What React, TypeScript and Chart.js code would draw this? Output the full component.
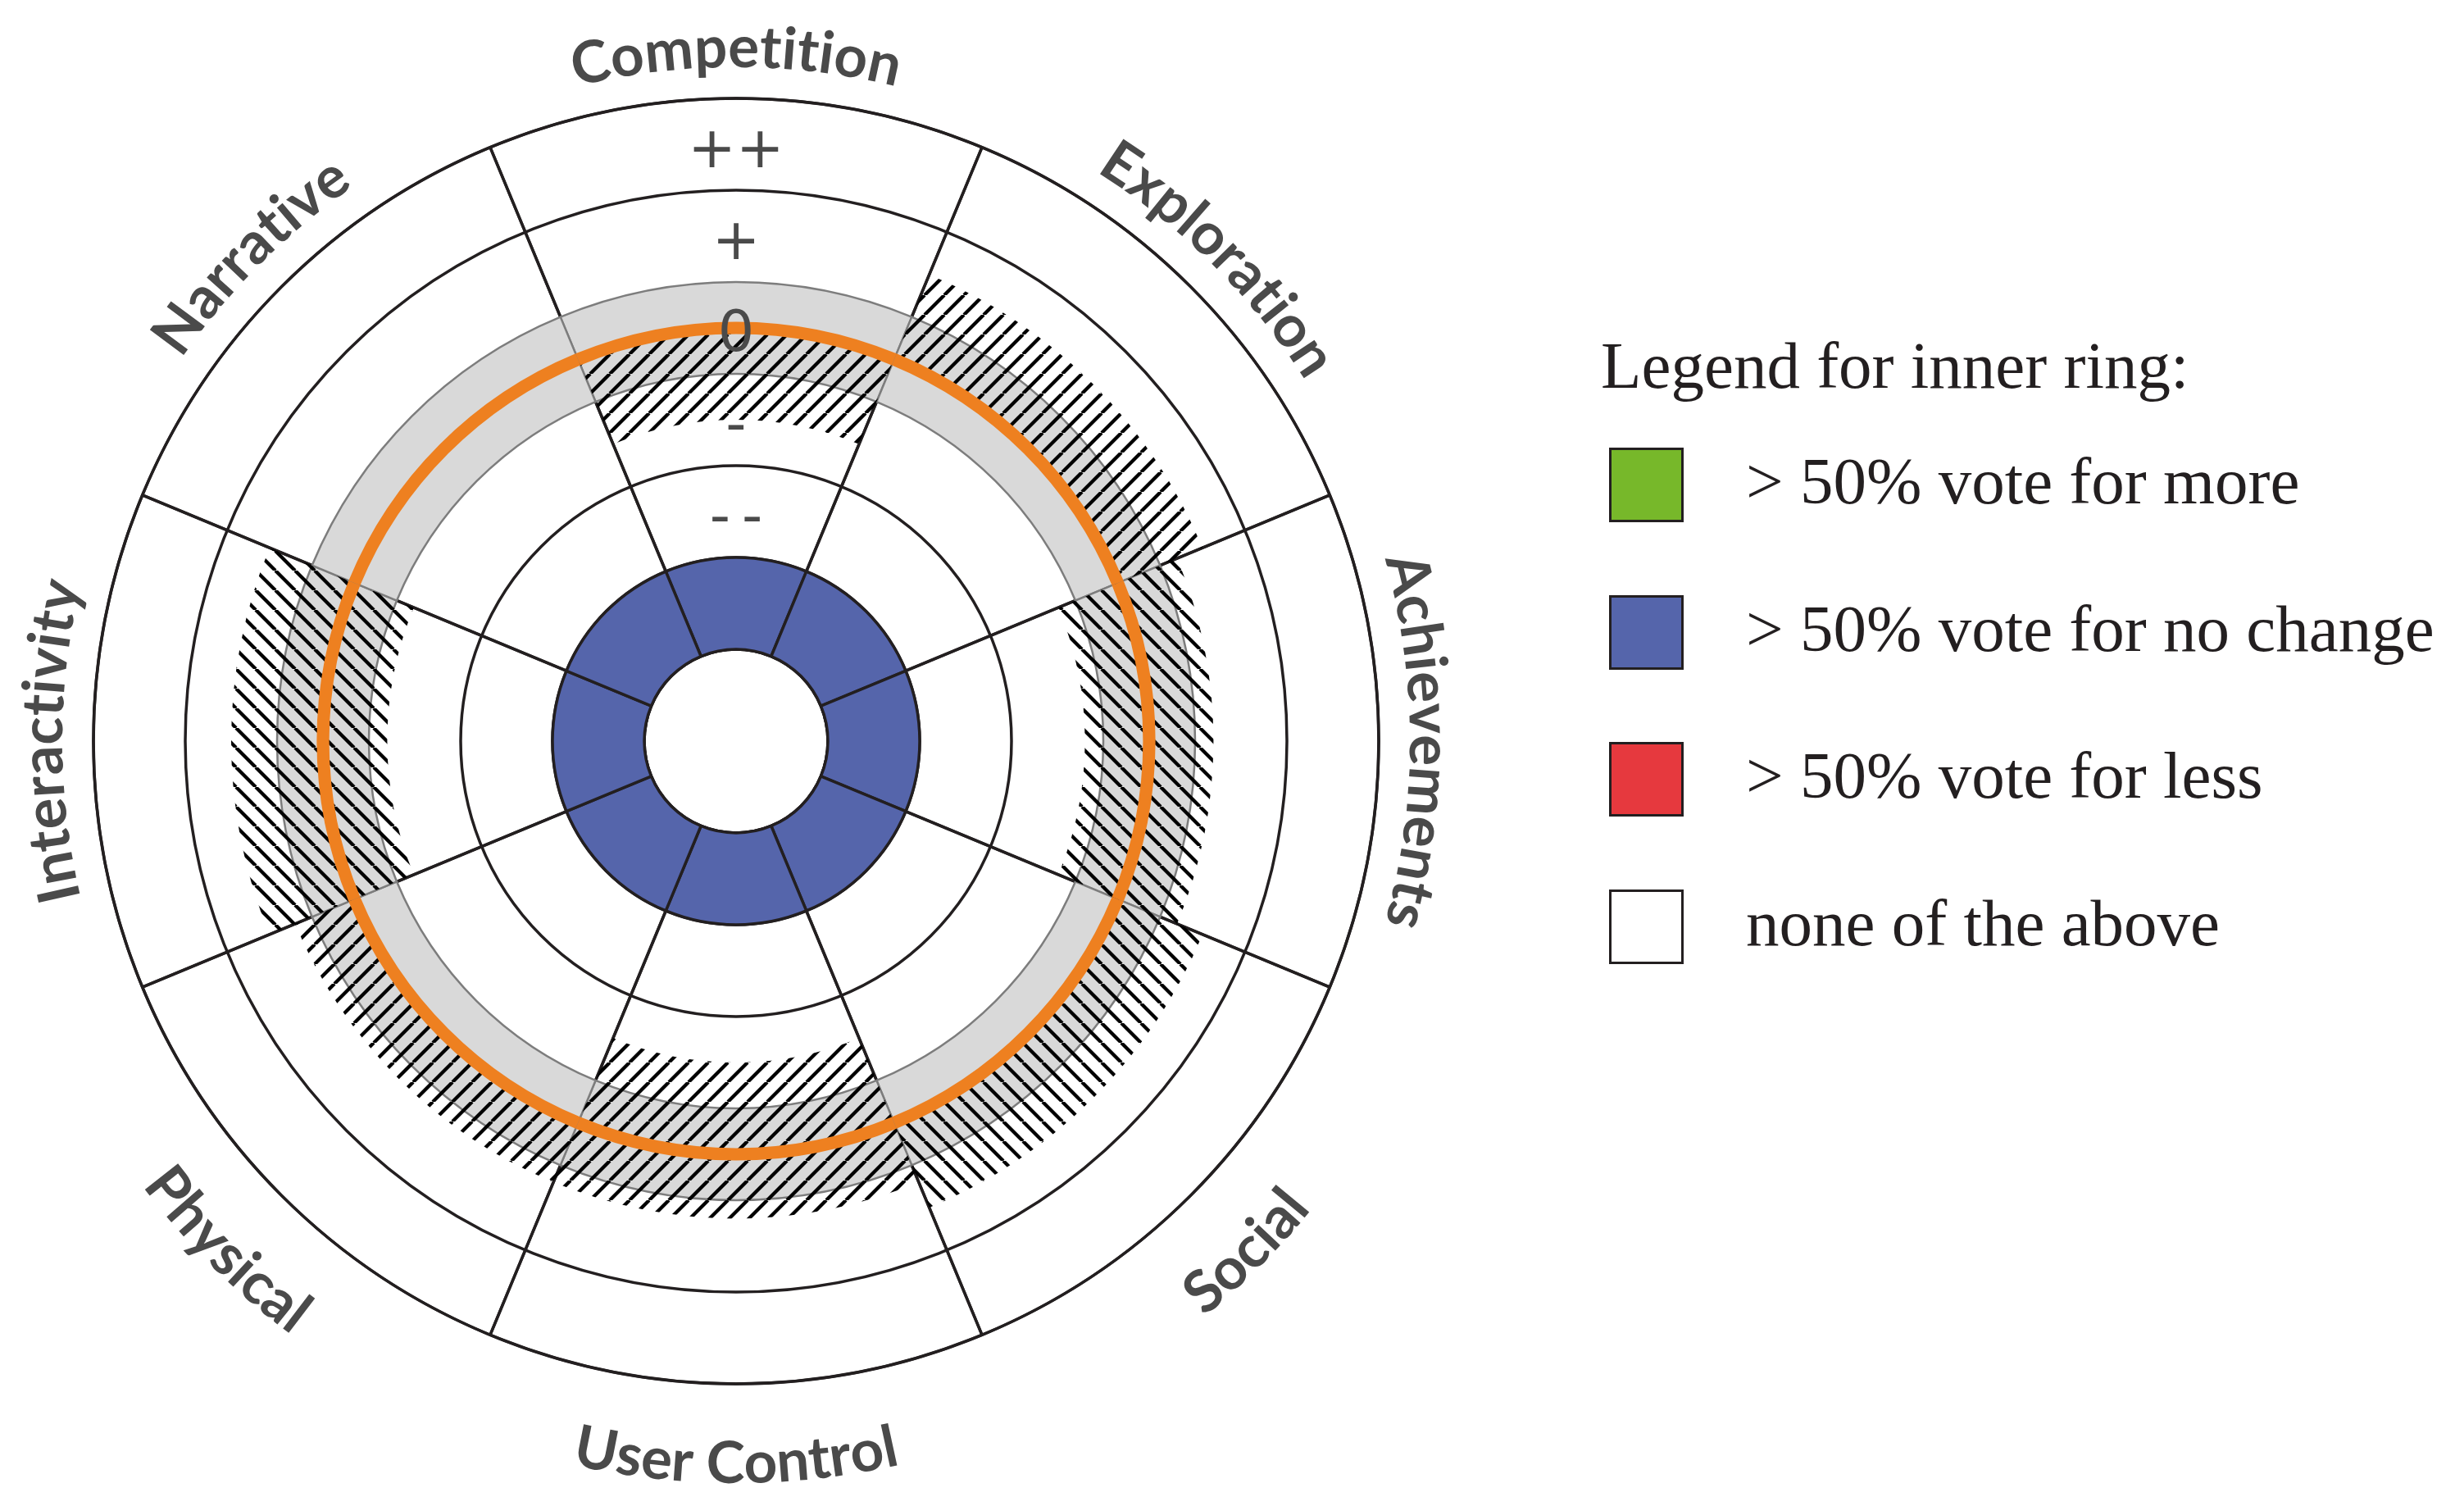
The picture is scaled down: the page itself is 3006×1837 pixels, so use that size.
import React, { useEffect, useRef } from 'react';
import { Chart, PolarAreaController, registerables } from 'chart.js';

Chart.register(...registerables);

// ---------------- data ----------------
const CATEGORIES = ['Competition', 'Exploration', 'Achievements', 'Social', 'User Control', 'Physical', 'Interactivity', 'Narrative'];
const LEVEL_VALUES = [-2, -1, 0, 1, 2];
const LEVEL_LABELS = ['-\u2009-', '-', '0', '+', '++'];
// orange line (central value per element)
const MEDIAN = [0, 0, 0, 0, 0, 0, 0, 0];
// hatched spread per element (low / high, on the -- .. ++ scale)
const SPREAD_LOW = [-1.0, 0, -0.7, 0, -1.0, 0, -0.7, 0];
const SPREAD_HIGH = [0, 1.0, 0.7, 1.0, 0.7, 0.7, 1.0, 0];
const HATCH_DIR = ['/', '/', '\\', '\\', '/', '/', '\\', '/'];
// grey "no change" band
const NEUTRAL_LOW = -0.5;
const NEUTRAL_HIGH = 0.5;
// inner ring vote result per element
const INNER_RING = ['noChange', 'noChange', 'noChange', 'noChange', 'noChange', 'noChange', 'noChange', 'noChange'];
const LEGEND_TITLE = 'Legend for inner ring:';
const LEGEND_KEYS = ['more', 'noChange', 'less', 'none'];
const LEGEND_LABELS = ['> 50% vote for more', '> 50% vote for no change', '> 50% vote for less', 'none of the above'];

// ---------------- styling / geometry ----------------
const VOTE_COLORS: Record<string, string> = { more: '#77b82a', noChange: '#5565ab', less: '#e6393e', none: '#ffffff' };
const LINE = '#231f20';
const TEXT_GREY = '#4a4a4a';
const SCALE_MIN = -4.5;
const SCALE_MAX = 2.5;
const RING_EDGES = [-3.5, -2.5, -1.5, -0.5, 0.5, 1.5, 2.5];
const BLACK_EDGES = [-3.5, -2.5, -1.5, 1.5, 2.5];
const INNER_LOW = -3.5;
const INNER_HIGH = -2.5;
const ORANGE_HALF = 0.068;
const LABEL_SHIFT = -0.09;

class RangePolarController extends (PolarAreaController as any) {
  static id = 'rangePolar';
  updateElements(arcs: any[], start: number, count: number, mode: any) {
    super.updateElements(arcs, start, count, mode);
    const self: any = this;
    const scale = self._cachedMeta.rScale;
    const ds: any = self.getDataset();
    const lows: number[] = ds.lows || [];
    const shift = ds.angleShift || 0;
    for (let i = start; i < start + count; i++) {
      const arc = arcs[i];
      const lo = lows[i];
      arc.innerRadius = lo == null ? 0 : scale.getDistanceFromCenterForValue(lo);
      arc.startAngle += shift;
      arc.endAngle += shift;
    }
  }
}
Chart.register(RangePolarController as any);

function makeHatch(ctx: CanvasRenderingContext2D, dir: string) {
  const P = 24;
  const c = document.createElement('canvas');
  c.width = P;
  c.height = P;
  const g = c.getContext('2d')!;
  g.strokeStyle = '#000';
  g.lineWidth = 4.3;
  g.beginPath();
  for (let k = -1; k <= 1; k++) {
    if (dir === '/') {
      g.moveTo(k * P, P);
      g.lineTo(k * P + P, 0);
    } else {
      g.moveTo(k * P, 0);
      g.lineTo(k * P + P, P);
    }
  }
  g.stroke();
  return ctx.createPattern(c, 'repeat');
}

const curvedLabels = {
  id: 'curvedLabels',
  afterDraw(chart: any) {
    const scale = chart.scales.r;
    const ctx: CanvasRenderingContext2D = chart.ctx;
    const cx = scale.xCenter;
    const cy = scale.yCenter;
    ctx.save();
    ctx.font = '700 71px Lato';
    ctx.fillStyle = TEXT_GREY;
    ctx.textAlign = 'center';
    ctx.textBaseline = 'alphabetic';
    (chart.data.labels as string[]).forEach((label, i) => {
      const theta = scale.getIndexAngle(i);
      const deg = (theta * 180) / Math.PI;
      const bottom = deg > 90.5 && deg < 269.5;
      const R = bottom ? scale.drawingArea + 121 : scale.drawingArea + 38;
      const chars = Array.from(label);
      const widths = chars.map((ch) => ctx.measureText(ch).width);
      const total = widths.reduce((a, b) => a + b, 0);
      let s = -total / 2;
      chars.forEach((ch, k) => {
        const mid = s + widths[k] / 2;
        s += widths[k];
        const d = mid / R;
        const phi = bottom ? theta - d : theta + d;
        const x = cx + R * Math.sin(phi);
        const y = cy - R * Math.cos(phi);
        ctx.save();
        ctx.translate(x, y);
        ctx.rotate(bottom ? phi + Math.PI : phi);
        ctx.fillText(ch, 0, 0);
        ctx.restore();
      });
    });
    ctx.restore();
  },
};

export default function App() {
  const ref = useRef<HTMLCanvasElement | null>(null);

  useEffect(() => {
    const canvas = ref.current!;
    const ctx = canvas.getContext('2d')!;
    const patterns = HATCH_DIR.map((d) => makeHatch(ctx, d));
    const angleShift = -Math.PI / CATEGORIES.length;
    const same = (v: number) => CATEGORIES.map(() => v);

    const chart = new Chart(canvas, {
      type: 'rangePolar' as any,
      data: {
        labels: CATEGORIES,
        datasets: [
          {
            label: 'median',
            data: MEDIAN.map((v) => v + ORANGE_HALF),
            lows: MEDIAN.map((v) => v - ORANGE_HALF),
            backgroundColor: '#ee8020',
            borderWidth: 0,
            angleShift,
          },
          {
            label: 'inner ring',
            data: same(INNER_HIGH),
            lows: same(INNER_LOW),
            backgroundColor: INNER_RING.map((k) => VOTE_COLORS[k]),
            borderColor: LINE,
            borderWidth: 3.5,
            angleShift,
          },
          {
            label: 'spread',
            data: SPREAD_HIGH,
            lows: SPREAD_LOW,
            backgroundColor: patterns,
            borderWidth: 0,
            angleShift,
          },
          {
            label: 'neutral',
            data: same(NEUTRAL_HIGH),
            lows: same(NEUTRAL_LOW),
            backgroundColor: '#d9d9d9',
            borderColor: '#7d7d7d',
            borderWidth: 2.5,
            angleShift,
          },
          {
            label: 'sectors',
            data: same(SCALE_MAX),
            lows: same(INNER_LOW),
            backgroundColor: 'rgba(0,0,0,0)',
            borderColor: LINE,
            borderWidth: 3.5,
            angleShift,
          },
        ] as any,
      },
      options: {
        responsive: false,
        animation: false,
        devicePixelRatio: 1,
        events: [],
        layout: { padding: { left: 79, top: 85, right: 83, bottom: 114 } },
        plugins: { legend: { display: false }, tooltip: { enabled: false } },
        scales: {
          r: {
            min: SCALE_MIN,
            max: SCALE_MAX,
            startAngle: 0,
            beginAtZero: false,
            afterBuildTicks: (s: any) => {
              s.ticks = [
                { value: SCALE_MIN },
                ...RING_EDGES.map((v) => ({ value: v })),
                ...LEVEL_VALUES.map((v) => ({ value: v + LABEL_SHIFT })),
              ];
            },
            ticks: {
              display: true,
              z: 1,
              showLabelBackdrop: false,
              backdropPadding: 0,
              color: TEXT_GREY,
              font: { family: 'DejaVu Sans', size: 70 },
              callback: (value: any) => {
                const idx = LEVEL_VALUES.findIndex((l) => Math.abs(l + LABEL_SHIFT - value) < 1e-6);
                return idx >= 0 ? LEVEL_LABELS[idx] : '';
              },
            },
            grid: {
              circular: true,
              lineWidth: 3.5,
              color: (c: any) => {
                const v = c.tick ? c.tick.value : NaN;
                return BLACK_EDGES.some((e) => Math.abs(e - v) < 1e-6) ? LINE : 'rgba(0,0,0,0)';
              },
            },
            angleLines: { display: false },
            pointLabels: { display: false },
          } as any,
        },
      } as any,
      plugins: [curvedLabels as any],
    });
    return () => chart.destroy();
  }, []);

  const serif = '"Liberation Serif", "Times New Roman", serif';
  return (
    <div style={{ position: 'absolute', left: 0, top: 0, width: 3006, height: 1837, background: '#fff', overflow: 'hidden' }}>
      <canvas ref={ref} width={1800} height={1837} style={{ position: 'absolute', left: 0, top: 0, width: 1800, height: 1837 }} />
      <div style={{ position: 'absolute', left: 1953, top: 406, fontFamily: serif, fontSize: 81, lineHeight: '81px', color: LINE, whiteSpace: 'nowrap' }}>
        {LEGEND_TITLE}
      </div>
      {LEGEND_KEYS.map((k, i) => (
        <React.Fragment key={k}>
          <div
            style={{
              position: 'absolute',
              left: 1963,
              top: 546 + i * 179.5,
              width: 91,
              height: 91,
              boxSizing: 'border-box',
              border: `3.5px solid ${LINE}`,
              background: VOTE_COLORS[k],
            }}
          />
          <div style={{ position: 'absolute', left: 2130, top: 547 + i * 179.5, fontFamily: serif, fontSize: 81, lineHeight: '81px', color: LINE, whiteSpace: 'nowrap' }}>
            {LEGEND_LABELS[i]}
          </div>
        </React.Fragment>
      ))}
    </div>
  );
}
